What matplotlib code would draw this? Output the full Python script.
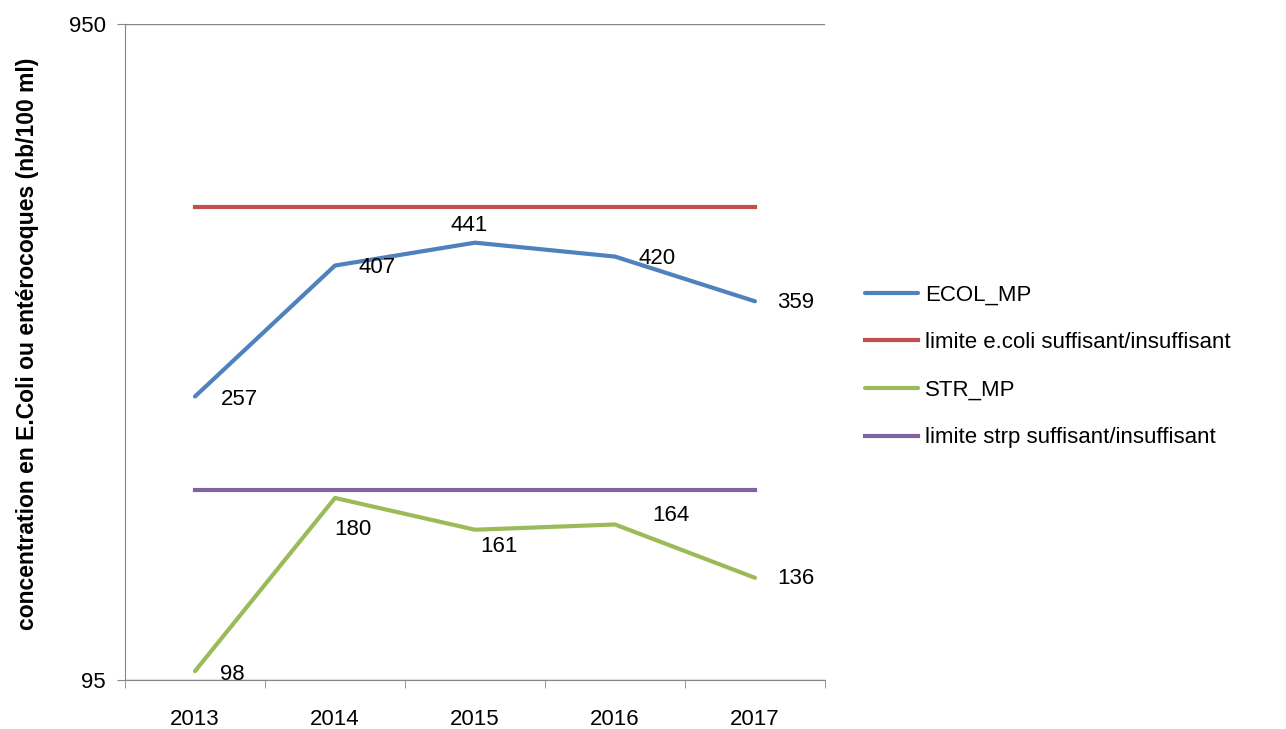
import matplotlib.pyplot as plt
import numpy as np

years = ["2013", "2014", "2015", "2016", "2017"]
ecol_mp = [257, 407, 441, 420, 359]
limite_ecoli = [500, 500, 500, 500, 500]
str_mp = [98, 180, 161, 164, 136]
limite_strp = [185, 185, 185, 185, 185]

plt.rcParams['font.family'] = ['Liberation Sans', 'DejaVu Sans']

fig = plt.figure(figsize=(12.86, 7.29), dpi=100)
ax = fig.add_axes([0.0972, 0.0672, 0.5443, 0.8998])

x = np.arange(len(years))
ax.plot(x, ecol_mp, color='#4F81BD', lw=3, label='ECOL_MP', solid_capstyle='round')
ax.plot(x, limite_ecoli, color='#C0504D', lw=3, label='limite e.coli suffisant/insuffisant')
ax.plot(x, str_mp, color='#9BBB59', lw=3, label='STR_MP', solid_capstyle='round')
ax.plot(x, limite_strp, color='#8064A2', lw=3, label='limite strp suffisant/insuffisant')

ax.set_yscale('log')
ax.set_ylim(95, 950)
ax.set_xlim(-0.5, 4.5)
ax.set_yticks([95, 950])
ax.set_yticklabels(['95', '950'])
ax.yaxis.set_minor_locator(plt.NullLocator())
ax.set_xticks(x)
ax.set_xticklabels(years)
ax.set_xticks(np.arange(-0.5, 5, 1), minor=True)
ax.tick_params(axis='x', which='major', length=0, labelsize=16, pad=21)
ax.tick_params(axis='x', which='minor', length=6, color='#868686')
ax.tick_params(axis='y', length=6, color='#868686', labelsize=16, pad=8)
ax.grid(axis='y', color='#868686', lw=1)

for side in ['top', 'right']:
    ax.spines[side].set_visible(False)
for side in ['left', 'bottom']:
    ax.spines[side].set_color('#868686')

# data labels, offsets in pixels from the point
ecol_off = [(44, -3), (42, -2), (-6, 17), (42, -2), (41, -1)]
str_off = [(37, -3), (18, -32), (24, -17), (56, 9), (41, -1)]
for i in range(len(years)):
    ax.annotate(str(ecol_mp[i]), (x[i], ecol_mp[i]),
                xytext=(ecol_off[i][0] * 0.72, ecol_off[i][1] * 0.72),
                textcoords='offset points', ha='center', va='center', fontsize=16)
    ax.annotate(str(str_mp[i]), (x[i], str_mp[i]),
                xytext=(str_off[i][0] * 0.72, str_off[i][1] * 0.72),
                textcoords='offset points', ha='center', va='center', fontsize=16)

fig.text(0.021, 0.529, 'concentration en E.Coli ou entérocoques (nb/100 ml)',
         rotation=90, ha='center', va='center', fontsize=16.5, fontweight='bold')

ax.legend(loc='center left', bbox_to_anchor=(0.6656, 0.4975),
          bbox_transform=fig.transFigure, frameon=False, borderaxespad=0,
          fontsize=16, handlelength=2.4, handletextpad=0.3, labelspacing=1.2)

fig.savefig('out.png', dpi=100)
